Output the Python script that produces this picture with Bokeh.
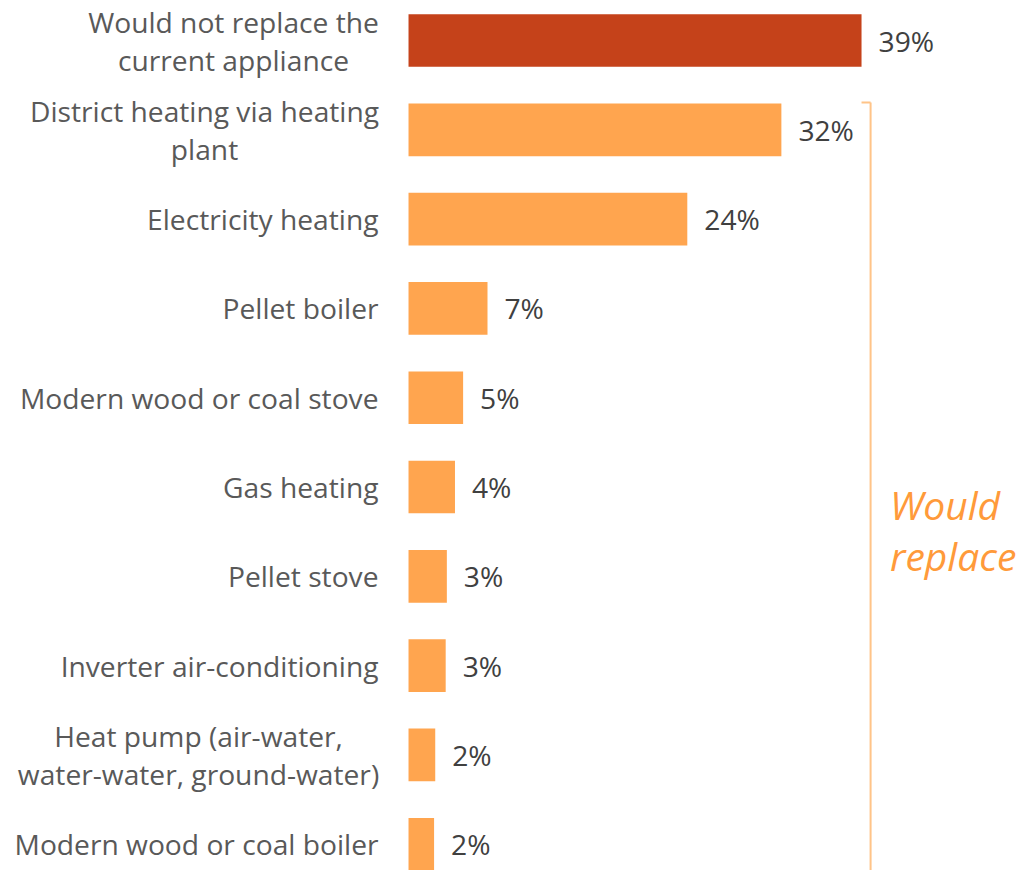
from bokeh.plotting import figure
from bokeh.models import ColumnDataSource, Range1d, Label
from bokeh.core.properties import value
from bokeh.embed import file_html
from bokeh.resources import INLINE

categories = [
    "Would not replace the\ncurrent appliance",
    "District heating via heating\nplant",
    "Electricity heating",
    "Pellet boiler",
    "Modern wood or coal stove",
    "Gas heating",
    "Pellet stove",
    "Inverter air-conditioning",
    "Heat pump (air-water,\nwater-water, ground-water)",
    "Modern wood or coal boiler",
]
values = [39.0, 32.1, 24.0, 6.8, 4.7, 4.0, 3.3, 3.2, 2.3, 2.2]
value_labels = ["39%", "32%", "24%", "7%", "5%", "4%", "3%", "3%", "2%", "2%"]
colors = ["#C5421A"] + ["#FFA54F"] * 9

# layout style: approximate pixel width of the widest line of each wrapped label
block_width_px = {0: 290, 1: 348, 8: 360}
LABEL_GAP = 30
LINE_SPACING = 38

ys = list(range(len(categories)))
src = ColumnDataSource(dict(val=values, lab=value_labels, y=ys, color=colors,
                            zero=[0] * len(values)))

single = dict(txt=[], y=[], zero=[])
multi = dict(txt=[], y=[], zero=[], xo=[], yo=[])
for i, cat in enumerate(categories):
    lines = cat.split("\n")
    if len(lines) == 1:
        single["txt"].append(cat); single["y"].append(ys[i]); single["zero"].append(0)
    else:
        n = len(lines)
        for j, line in enumerate(lines):
            multi["txt"].append(line); multi["y"].append(ys[i]); multi["zero"].append(0)
            multi["xo"].append(-LABEL_GAP - block_width_px[i] / 2)
            multi["yo"].append((j - (n - 1) / 2) * LINE_SPACING)

W, H = 1019, 870
p = figure(width=W, height=H, output_backend="svg", toolbar_location=None,
           x_range=Range1d(-35.127, 52.60), y_range=Range1d(9.294, -0.448),
           x_axis_location=None, y_axis_location=None,
           min_border=0, min_border_left=0, min_border_right=0, min_border_top=0, min_border_bottom=0,
           outline_line_color=None, background_fill_color="white", border_fill_color="white")
p.grid.visible = False

p.hbar(y="y", left=0, right="val", height=0.59, fill_color="color", line_color=None, source=src)

label_style = dict(text_baseline="middle", text_font=value("Open Sans"), text_font_size="28.2px",
                   text_color="#595959")
p.text(x="zero", y="y", text="txt", source=ColumnDataSource(single), x_offset=-LABEL_GAP,
       text_align="right", **label_style)
p.text(x="zero", y="y", text="txt", source=ColumnDataSource(multi), x_offset="xo", y_offset="yo",
       text_align="center", **label_style)

p.text(x="val", y="y", text="lab", source=src, x_offset=17, text_align="left",
       text_baseline="middle", text_font=value("Open Sans"), text_font_size="28.2px",
       text_color="#404040")

# bracket for "Would replace"
bracket_color = "#FFC488"
p.segment(x0=[39.78, 39.0], y0=[0.694, 0.694], x1=[39.78, 39.78], y1=[9.4, 0.694],
          line_color=bracket_color, line_width=2)

for txt, yy in [("Would", 5.20), ("replace", 5.77)]:
    p.add_layout(Label(x=41.45, y=yy, text=txt, text_font="Open Sans", text_font_style="italic",
                       text_font_size="39px", text_color="#FF9A3A", text_baseline="middle",
                       text_align="left"))

open("out.html", "w").write(file_html(p, INLINE))
